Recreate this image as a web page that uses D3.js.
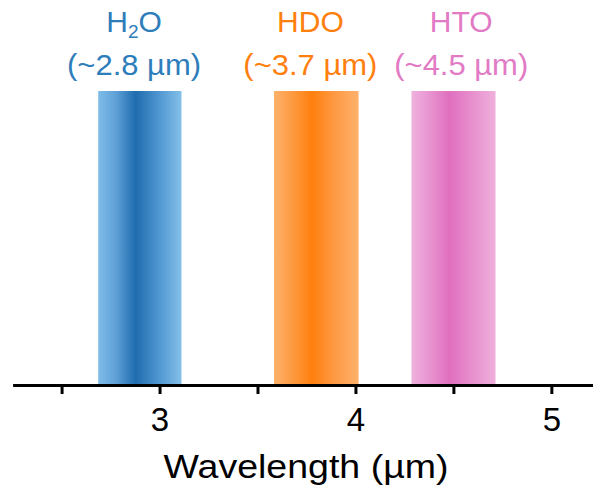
<!DOCTYPE html>
<html>
<head>
<meta charset="utf-8">
<script src="https://cdn.jsdelivr.net/npm/d3@7"></script>
<style>
	body { margin: 0; background: white; }
	text { font-family: "Liberation Sans", Arial, sans-serif; }
</style>
</head>
<body>
<div class="chart"></div>
<script>
// bands (wavelength in µm)
const species = ["H2O", "HDO", "HTO"]
const bandStart = [2.687, 3.584, 4.286]
const bandEnd = [3.112, 4.016, 4.715]
const peakLabel = ["(~2.8 µm)", "(~3.7 µm)", "(~4.5 µm)"]
const labelAt = [2.87, 3.77, 4.54]
const tickValues = [2.5, 3, 3.5, 4, 4.5, 5]
const xDomain = [2.25, 5.21]

const colors = {
	H2O: { text: "#2e7dbb", stops: ["#7fbce8", "#5d9fd6", "#1f6cae", "#4e95d0", "#84c0ea"] },
	HDO: { text: "#ff7f0e", stops: ["#fdb26c", "#fd9a40", "#ff7f0e", "#fe9a45", "#ffb16c"] },
	HTO: { text: "#e27ac5", stops: ["#efb2de", "#e893d0", "#e06fbf", "#e78fcd", "#efb0dc"] }
}

function plot_chart() {
	let width = 593
	let height = 489
	let axisY = 385

	var svg = d3.select(".chart")
		.append("svg")
		.attr("width", width)
		.attr("height", height)

	let x = d3.scaleLinear().domain(xDomain).range([12.6, 592.5])
	let y = d3.scaleLinear().domain([0, 1]).range([axisY - 1, 91])

	// gradients, dark in the middle of each band
	let defs = svg.append("defs")
	species.forEach(function (s) {
		let grad = defs.append("linearGradient")
			.attr("id", "grad-" + s)
			.attr("x1", "0%").attr("x2", "100%")
			.attr("y1", "0%").attr("y2", "0%")
		let offs = [0, 0.22, 0.45, 0.72, 1]
		colors[s].stops.forEach(function (c, i) {
			grad.append("stop").attr("offset", offs[i]).attr("stop-color", c)
		})
	})

	svg.selectAll("rect.band")
		.data(species)
		.join("rect")
		.attr("class", "band")
		.attr("x", (d, i) => x(bandStart[i]))
		.attr("width", (d, i) => x(bandEnd[i]) - x(bandStart[i]))
		.attr("y", y(1))
		.attr("height", y(0) - y(1))
		.attr("fill", d => "url(#grad-" + d + ")")

	// x axis
	let axis = svg.append("g")
		.attr("transform", `translate(0,${axisY})`)
		.call(d3.axisBottom(x)
			.tickValues(tickValues)
			.tickSize(9)
			.tickSizeOuter(0)
			.tickPadding(14)
			.tickFormat(d => Number.isInteger(d) ? d : ""))
	axis.select(".domain").attr("stroke", "#000").attr("stroke-width", 3)
	axis.selectAll(".tick line").attr("stroke", "#000").attr("stroke-width", 3)
	axis.selectAll(".tick text")
		.attr("fill", "#000")
		.style("font-size", "33px")
		.style("font-family", "Liberation Sans, Arial, sans-serif")

	svg.append("text")
		.attr("x", 306)
		.attr("y", 478)
		.attr("text-anchor", "middle")
		.attr("textLength", 285)
		.attr("lengthAdjust", "spacingAndGlyphs")
		.style("font-size", "33px")
		.attr("fill", "#000")
		.text("Wavelength (µm)")

	// species labels
	species.forEach(function (s, i) {
		let t = svg.append("text")
			.attr("x", x(labelAt[i]))
			.attr("y", 32)
			.attr("text-anchor", "middle")
			.attr("fill", colors[s].text)
			.style("font-size", "30px")
		if (s === "H2O") {
			t.append("tspan").text("H")
			t.append("tspan").attr("dy", 6).style("font-size", "19px").text("2")
			t.append("tspan").attr("dy", -6).text("O")
		} else {
			t.text(s)
		}
		svg.append("text")
			.attr("x", x(labelAt[i]))
			.attr("y", 75)
			.attr("text-anchor", "middle")
			.attr("textLength", 134)
			.attr("lengthAdjust", "spacingAndGlyphs")
			.attr("fill", colors[s].text)
			.style("font-size", "30px")
			.text(peakLabel[i])
	})
}

plot_chart()
</script>
</body>
</html>
